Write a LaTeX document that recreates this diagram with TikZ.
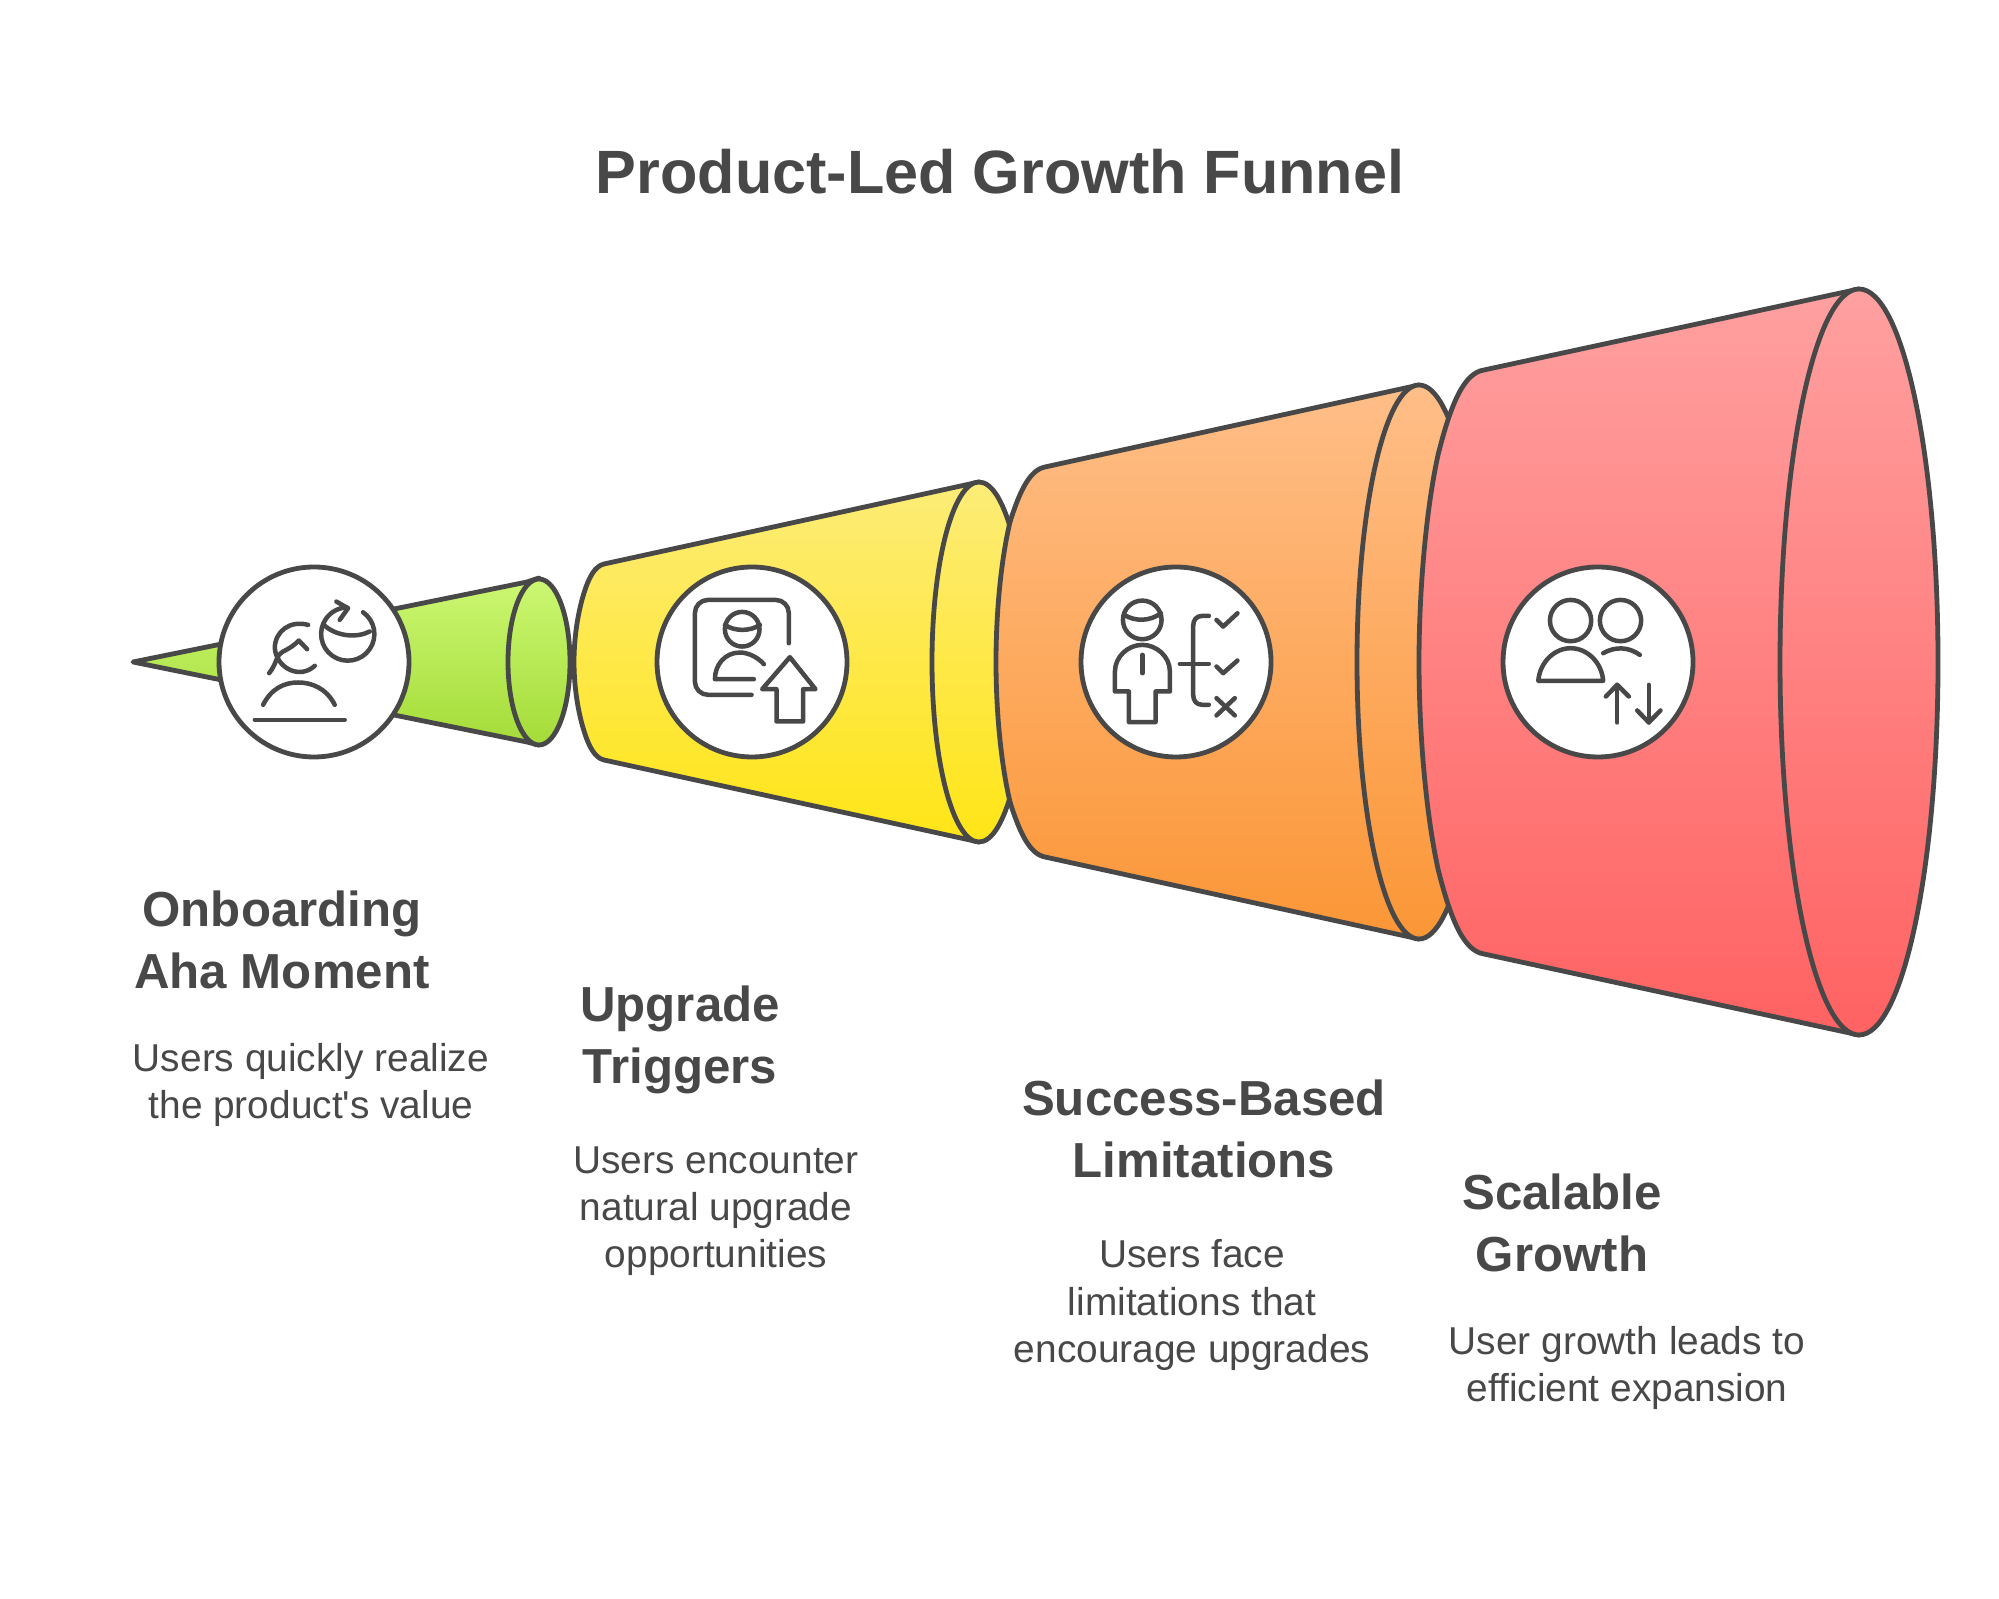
\documentclass[tikz,border=0pt]{standalone}
\usepackage{fontspec}
\setmainfont{Liberation Sans}[Ligatures=TeXOff]
\definecolor{inkgray}{HTML}{484848}
\usetikzlibrary{positioning}

\begin{document}
\begin{tikzpicture}[
    x=0.1mm, y=-0.1mm,
    outline/.style={draw=inkgray, line width=0.48mm, line join=round},
    greenpart/.style={outline, top color=green1, bottom color=green2},
    yellowpart/.style={outline, top color=yellow1, bottom color=yellow2},
    orangepart/.style={outline, top color=orange1, bottom color=orange2},
    redpart/.style={outline, top color=red1, bottom color=red2},
    badge/.style={circle, draw=inkgray, line width=0.48mm, fill=white, minimum size=19mm, inner sep=0pt},
    icon/.style={draw=inkgray, line width=0.45mm, line cap=round, line join=round},
    maintitle/.style={text=inkgray, font=\bfseries\fontsize{17.4}{21}\selectfont},
    heading/.style={text=inkgray, align=center, font=\bfseries\fontsize{14}{17.6}\selectfont},
    blurb/.style={text=inkgray, align=center, font=\fontsize{11.05}{13.4}\selectfont},
  ]
  \definecolor{green1}{HTML}{CBF772}
  \definecolor{green2}{HTML}{A4DC38}
  \definecolor{yellow1}{HTML}{FDEC78}
  \definecolor{yellow2}{HTML}{FFE516}
  \definecolor{orange1}{HTML}{FFBE88}
  \definecolor{orange2}{HTML}{FB9636}
  \definecolor{red1}{HTML}{FFA0A0}
  \definecolor{red2}{HTML}{FF6262}

  \useasboundingbox (0,0) rectangle (1999,1599);
  \fill[white] (0,0) rectangle (1999,1599);

  \path[greenpart] (133,662) -- (527,582) -- (539,578) -- (539,745) -- (527,742) -- cycle;
  \path[greenpart] (539,662) ellipse[x radius=31, y radius=83];

  \path[yellowpart] (604,564) -- (979,482) -- (979,842) -- (604,760)
    .. controls (595,758) and (589,747) .. (584,731)
    .. controls (578,712) and (574,687) .. (574,662)
    .. controls (574,637) and (578,612) .. (584,593)
    .. controls (589,577) and (595,566) .. (604,564) -- cycle;
  \path[yellowpart] (979,662) ellipse[x radius=47, y radius=180];

  \path[orangepart] (1045,467) -- (1419,385) -- (1419,939) -- (1045,857)
    .. controls (1030,854) and (1020,834) .. (1010,802)
    .. controls (1001,764) and (996,712) .. (996,662)
    .. controls (996,612) and (1001,560) .. (1010,522)
    .. controls (1020,490) and (1030,470) .. (1045,467) -- cycle;
  \path[orangepart] (1419,662) ellipse[x radius=62, y radius=277];

  \path[redpart] (1484,370) -- (1859,289) -- (1859,1035) -- (1484,954)
    .. controls (1464,951) and (1451,921) .. (1438,869)
    .. controls (1426,814) and (1419,734) .. (1419,662)
    .. controls (1419,590) and (1426,510) .. (1438,455)
    .. controls (1451,403) and (1464,373) .. (1484,370) -- cycle;
  \path[redpart] (1859,662) ellipse[x radius=79, y radius=373];

  \node[badge] (onboarding) at (314,662) {};
  \node[badge] (upgrade) at (752,662) {};
  \node[badge] (success) at (1176,662) {};
  \node[badge] (scalable) at (1598,662) {};

  \begin{scope}[shift={(120,540)}, x=0.0333mm, y=-0.0333mm]
    \draw[icon] (405,540) -- (675,540);
    \draw[icon] (430,495) .. controls (455,445) and (495,428) .. (535,428)
      .. controls (575,428) and (620,445) .. (645,495);
    \draw[icon] (565,255) .. controls (510,240) and (465,275) .. (465,325)
      .. controls (470,385) and (540,420) .. (585,378);
    \draw[icon] (448,400) .. controls (475,365) and (465,350) .. (490,335)
      .. controls (510,325) and (525,315) .. (537,302) -- (562,328);
    \draw[icon] (730,217) arc[start angle=-55, end angle=268, radius=80];
    \draw[icon] (650,185) -- (685,205) -- (660,240);
    \draw[icon] (612,255) .. controls (650,290) and (710,295) .. (750,275);
  \end{scope}

  \begin{scope}[shift={(640,550)}, x=0.0333mm, y=-0.0333mm]
    \draw[icon, rounded corners=1.3mm] (447,280) -- (447,150) -- (165,150) -- (165,435) -- (335,435);
    \draw[icon] (307,238) circle[radius=52];
    \draw[icon] (255,225) .. controls (285,245) and (330,245) .. (360,225);
    \draw[icon] (372,343) .. controls (350,318) and (320,308) .. (300,308)
      .. controls (255,308) and (225,345) .. (225,388) -- (342,388);
    \draw[icon] (450,322) -- (527,418) -- (490,418) -- (490,515) -- (410,515) -- (410,418) -- (367,418) -- cycle;
  \end{scope}

  \begin{scope}[shift={(1065,550)}, x=0.0333mm, y=-0.0333mm]
    \draw[icon] (232,210) circle[radius=58];
    \draw[icon] (178,195) .. controls (210,215) and (255,215) .. (288,190);
    \draw[icon] (192,517) -- (272,517) -- (272,425) -- (315,425) -- (315,365)
      .. controls (315,320) and (275,285) .. (232,285)
      .. controls (190,285) and (150,320) .. (150,365) -- (150,425) -- (192,425) -- cycle;
    \draw[icon] (232,315) -- (232,370);
    \draw[icon] (432,198) -- (412,198) .. controls (395,198) and (385,210) .. (385,228)
      -- (385,435) .. controls (385,453) and (395,465) .. (412,465) -- (432,465);
    \draw[icon] (345,342) -- (432,342);
    \draw[icon] (455,210) -- (475,230) -- (518,190);
    \draw[icon] (455,350) -- (475,370) -- (518,332);
    \draw[icon] (455,445) -- (510,497);
    \draw[icon] (510,445) -- (455,497);
  \end{scope}

  \begin{scope}[shift={(1490,550)}, x=0.0333mm, y=-0.0333mm]
    \draw[icon] (242,212) circle[radius=62];
    \draw[icon] (392,212) circle[radius=62];
    \draw[icon] (145,393) -- (340,393) .. controls (335,335) and (290,295) .. (242,295)
      .. controls (195,295) and (150,335) .. (145,393) -- cycle;
    \draw[icon] (340,310) .. controls (375,290) and (415,290) .. (450,315);
    \draw[icon] (382,518) -- (382,405);
    \draw[icon] (348,440) -- (382,405) -- (417,440);
    \draw[icon] (477,405) -- (477,518);
    \draw[icon] (442,482) -- (477,518) -- (512,482);
  \end{scope}

  \node[maintitle] (title) at (1000,172) {Product-Led Growth Funnel};

  \node[heading] (onboardinghead) at (282,940) {Onboarding\\Aha Moment};
  \node[blurb] (onboardingtext) at (311,1085) {Users quickly realize\\the product's value};

  \node[heading] (upgradehead) at (680,1040) {Upgrade\\Triggers};
  \node[blurb] (upgradetext) at (716,1211) {Users encounter\\natural upgrade\\opportunities};

  \node[heading] (successhead) at (1204,1129) {Success-Based\\Limitations};
  \node[blurb] (successtext) at (1192,1305) {Users face\\limitations that\\encourage upgrades};

  \node[heading] (scalablehead) at (1562,1223) {Scalable\\Growth};
  \node[blurb] (scalabletext) at (1627,1368) {User growth leads to\\efficient expansion};
\end{tikzpicture}
\end{document}
